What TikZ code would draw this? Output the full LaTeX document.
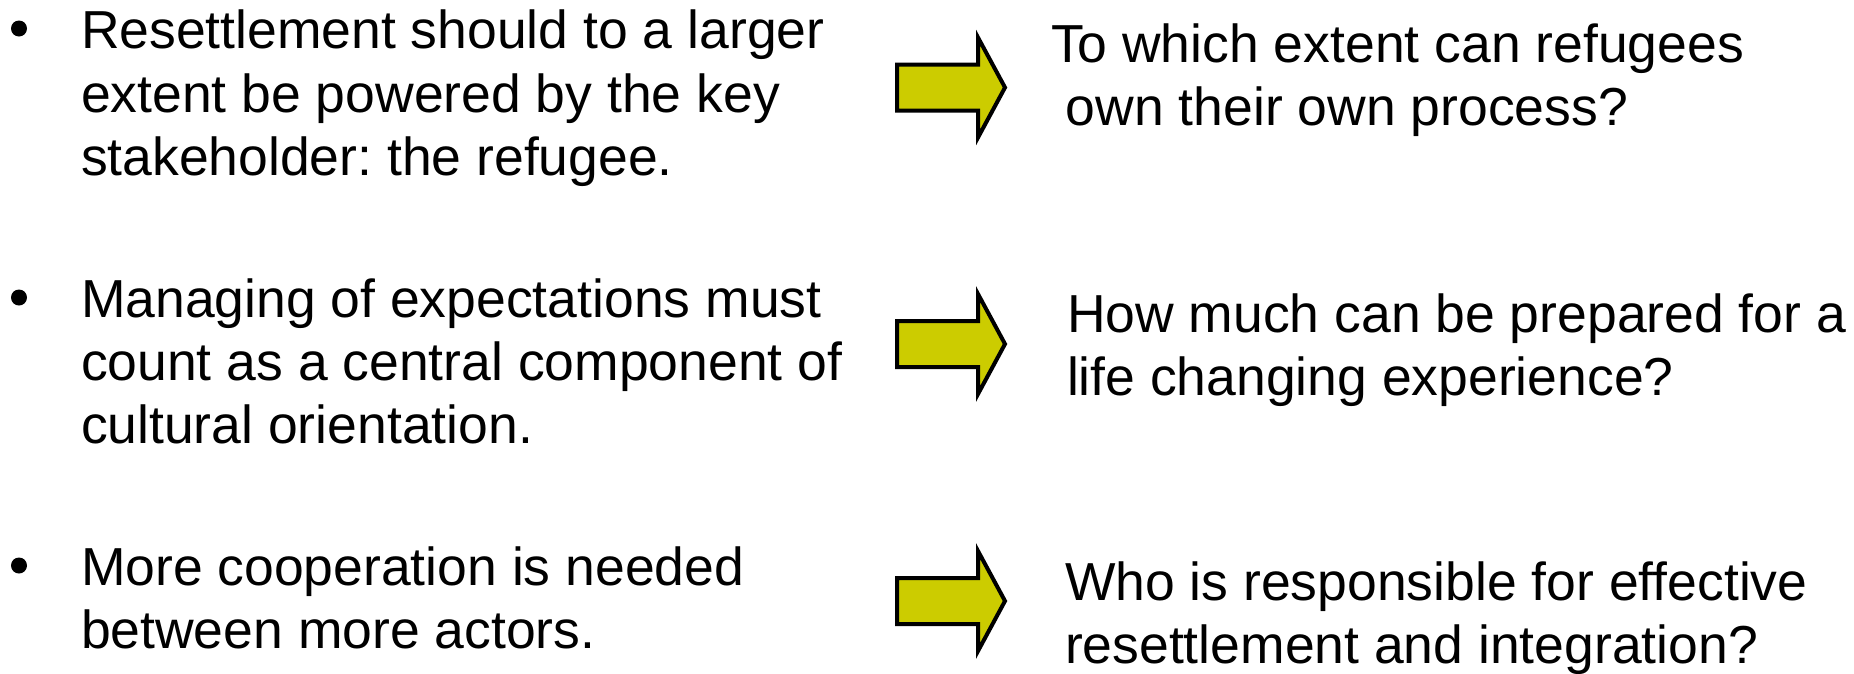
\documentclass[tikz,border=0pt]{standalone}
\usepackage{fontspec}
\setmainfont{Liberation Sans}
\frenchspacing
\definecolor{arrowfill}{RGB}{204,204,0}
\tikzset{
  txt/.style={anchor=base west, inner sep=0pt, outer sep=0pt, font=\fontsize{53.5pt}{63.5pt}\selectfont},
  bulletdot/.style={circle, fill=black, inner sep=0pt, minimum size=16pt},
  bigarrow/.style={draw=black, line width=4pt, fill=arrowfill, line join=miter, miter limit=10}
}
\begin{document}
\begin{tikzpicture}[x=1pt,y=-1pt]
\useasboundingbox[fill=white] (0,0) rectangle (1854,673);
% left column
\node[bulletdot] (b1) at (19,28.5) {};
\node[txt] (l1a) at (81,48) {Resettlement should to a larger};
\node[txt] (l1b) at (81,112) {extent be powered by the key};
\node[txt] (l1c) at (81,175) {stakeholder: the refugee.};
\node[bulletdot] (b2) at (19,297.5) {};
\node[txt] (l2a) at (81,317) {Managing of expectations must};
\node[txt] (l2b) at (81,380) {count as a central component of};
\node[txt] (l2c) at (81,443) {cultural orientation.};
\node[bulletdot] (b3) at (19,565.5) {};
\node[txt] (l3a) at (81,585) {More cooperation is needed};
\node[txt] (l3b) at (81,648) {between more actors.};
% right column
\node[txt] (r1a) at (1051,62) {To which extent can refugees};
\node[txt] (r1b) at (1051,125) {\ own their own process?};
\node[txt] (r2a) at (1067,332) {How much can be prepared for a};
\node[txt] (r2b) at (1067,395) {life changing experience?};
\node[txt] (r3a) at (1065,600) {Who is responsible for effective};
\node[txt] (r3b) at (1065,663) {resettlement and integration?};
% arrows
\foreach \cy in {87.5,344,601}{
  \draw[bigarrow] (897,\cy-23) -- (978,\cy-23) -- (978,\cy-50) -- (1005,\cy)
    -- (978,\cy+50) -- (978,\cy+23) -- (897,\cy+23) -- cycle;
}
\end{tikzpicture}
\end{document}
